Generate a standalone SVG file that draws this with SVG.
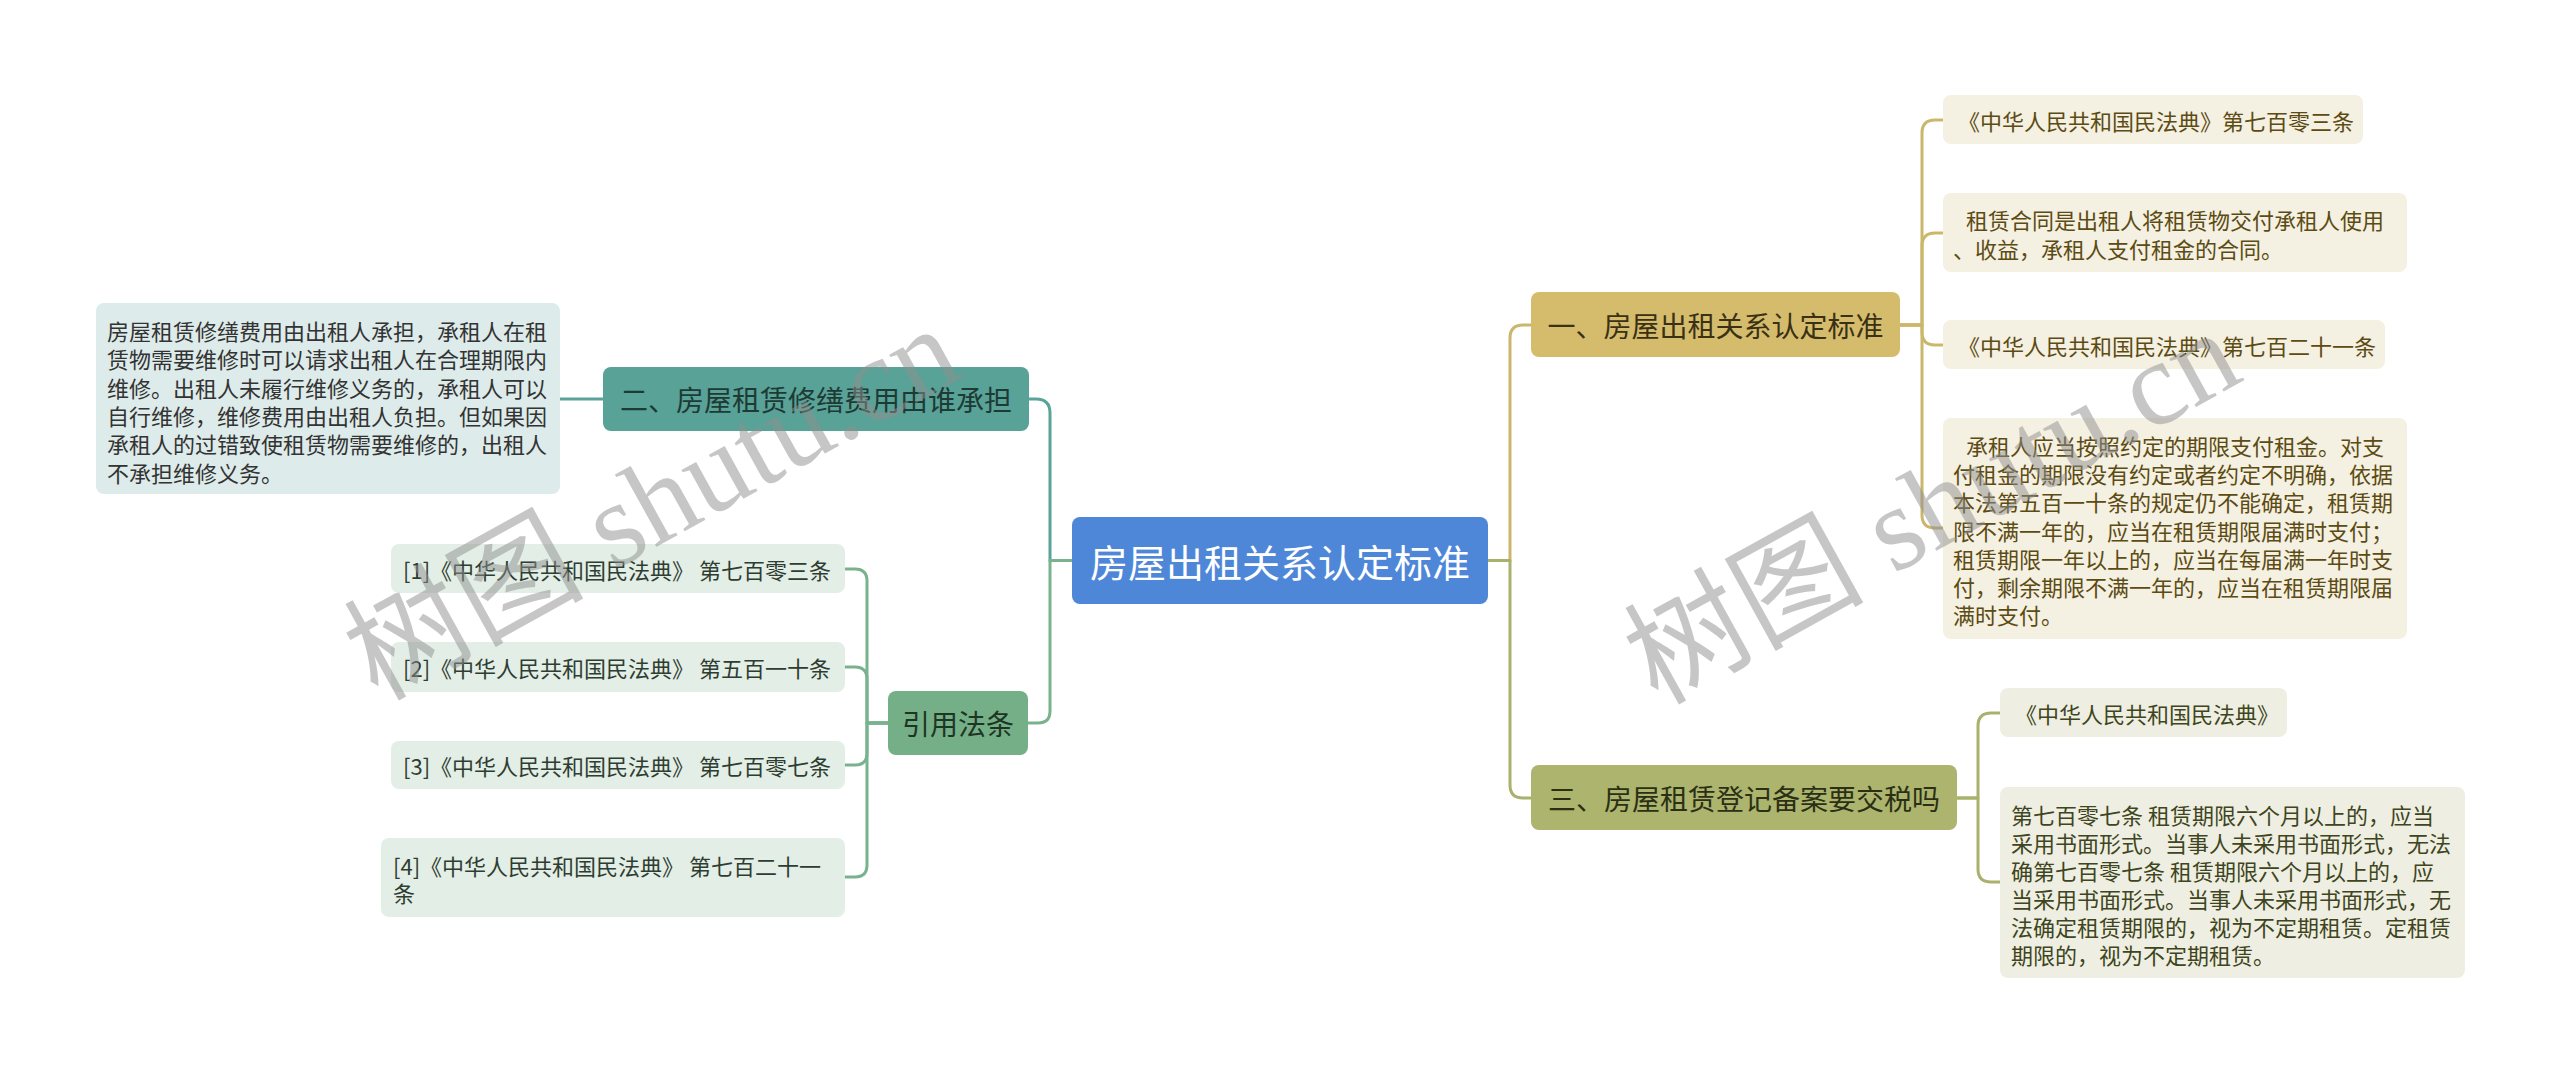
<svg xmlns="http://www.w3.org/2000/svg" width="2560" height="1074" viewBox="0 0 2560 1074">
<style>
text { font-family: "Noto Sans CJK SC", "Noto Sans", sans-serif; dominant-baseline: central; }
.c { fill: none; stroke-width: 3; stroke-linecap: round; stroke-linejoin: round; }
.teal { stroke: #5BA39A; }
.green { stroke: #79B38E; }
.gold { stroke: #CBB76C; }
.olive { stroke: #A9B16C; }
.s22 { font-size: 22px; }
.s28 { font-size: 28px; }
.lb { fill: #DDEBEA; }
.lt { fill: #333333; }
.rf { fill: #E3EEE6; }
.rt { fill: #2E3D31; }
.gf { fill: #F4F0E2; }
.gt { fill: #5C4B12; }
.of { fill: #EEEFE2; }
.ot { fill: #3E4520; }
.wm { font-family: "Liberation Serif", "Noto Sans CJK SC", serif; font-size: 120px; fill: #8f8f8f; opacity: 0.5; text-anchor: middle; }
</style>
<rect width="2560" height="1074" fill="#ffffff"/>

<g id="connectors">
  <path class="c teal" d="M1072,560.5 H1050 V413 Q1050,399 1036,399 H1029"/>
  <path class="c green" d="M1072,560.5 H1050 V711 Q1050,723 1038,723 H1028"/>
  <path class="c teal" d="M603,399 H560"/>
  <path class="c green" d="M888,723 H867 V581 Q867,569 855,569 H845"/>
  <path class="c green" d="M888,723 H867 V679 Q867,667 855,667 H845"/>
  <path class="c green" d="M888,723 H867 V753 Q867,765 855,765 H845"/>
  <path class="c green" d="M888,723 H867 V865 Q867,877 855,877 H845"/>
  <path class="c gold" d="M1488,560.5 H1510 V338 Q1510,325 1523,325 H1531"/>
  <path class="c olive" d="M1488,560.5 H1510 V785 Q1510,798 1523,798 H1531"/>
  <path class="c gold" d="M1900,325 H1922 V133 Q1922,120 1935,120 H1943"/>
  <path class="c gold" d="M1900,325 H1922 V246 Q1922,233 1935,233 H1943"/>
  <path class="c gold" d="M1900,325 H1922 V332 Q1922,345 1935,345 H1943"/>
  <path class="c gold" d="M1900,325 H1922 V515 Q1922,528 1935,528 H1943"/>
  <path class="c olive" d="M1957,798 H1978 V726 Q1978,713 1991,713 H2000"/>
  <path class="c olive" d="M1957,798 H1978 V869 Q1978,882 1991,882 H2000"/>
</g>

<g id="root">
  <rect x="1072" y="517" width="416" height="87" rx="8" fill="#4F87D8"/>
  <text x="1280" y="560.5" font-size="38" fill="#ffffff" text-anchor="middle">房屋出租关系认定标准</text>
</g>

<g id="branch2">
  <rect x="603" y="367" width="426" height="64" rx="8" fill="#59A297"/>
  <text class="s28" x="816" y="399" fill="#1E3A35" text-anchor="middle">二、房屋租赁修缮费用由谁承担</text>
</g>

<g id="branch2-text">
  <rect class="lb" x="96" y="303" width="464" height="191" rx="8"/>
  <text class="s22 lt" x="107" y="330">房屋租赁修缮费用由出租人承担，承租人在租</text>
  <text class="s22 lt" x="107" y="358.3">赁物需要维修时可以请求出租人在合理期限内</text>
  <text class="s22 lt" x="107" y="386.6">维修。出租人未履行维修义务的，承租人可以</text>
  <text class="s22 lt" x="107" y="414.9">自行维修，维修费用由出租人负担。但如果因</text>
  <text class="s22 lt" x="107" y="443.2">承租人的过错致使租赁物需要维修的，出租人</text>
  <text class="s22 lt" x="107" y="471.5">不承担维修义务。</text>
</g>

<g id="refs">
  <rect x="888" y="691" width="140" height="64" rx="8" fill="#74AF87"/>
  <text class="s28" x="958" y="723" fill="#1F3524" text-anchor="middle">引用法条</text>
</g>

<g id="ref1">
  <rect class="rf" x="391" y="544" width="454" height="49" rx="8"/>
  <text class="s22 rt" x="403" y="569">[1]《中华人民共和国民法典》 第七百零三条</text>
</g>
<g id="ref2">
  <rect class="rf" x="391" y="642" width="454" height="50" rx="8"/>
  <text class="s22 rt" x="403" y="667">[2]《中华人民共和国民法典》 第五百一十条</text>
</g>
<g id="ref3">
  <rect class="rf" x="391" y="741" width="454" height="48" rx="8"/>
  <text class="s22 rt" x="403" y="765">[3]《中华人民共和国民法典》 第七百零七条</text>
</g>
<g id="ref4">
  <rect class="rf" x="381" y="838" width="464" height="79" rx="8"/>
  <text class="s22 rt" x="393" y="865">[4]《中华人民共和国民法典》 第七百二十一</text>
  <text class="s22 rt" x="393" y="892">条</text>
</g>

<g id="branch1">
  <rect x="1531" y="292" width="369" height="65" rx="8" fill="#D4BC6C"/>
  <text class="s28" x="1715.5" y="324.5" fill="#3A3014" text-anchor="middle">一、房屋出租关系认定标准</text>
</g>
<g id="b1-a">
  <rect class="gf" x="1943" y="95" width="420" height="49" rx="8"/>
  <text class="s22 gt" x="1958" y="120">《中华人民共和国民法典》第七百零三条</text>
</g>
<g id="b1-b">
  <rect class="gf" x="1943" y="193" width="464" height="79" rx="8"/>
  <text class="s22 gt" x="1966" y="219">租赁合同是出租人将租赁物交付承租人使用</text>
  <text class="s22 gt" x="1953" y="247.5">、收益，承租人支付租金的合同。</text>
</g>
<g id="b1-c">
  <rect class="gf" x="1943" y="320" width="442" height="49" rx="8"/>
  <text class="s22 gt" x="1958" y="345">《中华人民共和国民法典》第七百二十一条</text>
</g>
<g id="b1-d">
  <rect class="gf" x="1943" y="418" width="464" height="221" rx="8"/>
  <text class="s22 gt" x="1966" y="445">承租人应当按照约定的期限支付租金。对支</text>
  <text class="s22 gt" x="1953" y="473.2">付租金的期限没有约定或者约定不明确，依据</text>
  <text class="s22 gt" x="1953" y="501.4">本法第五百一十条的规定仍不能确定，租赁期</text>
  <text class="s22 gt" x="1953" y="529.6">限不满一年的，应当在租赁期限届满时支付；</text>
  <text class="s22 gt" x="1953" y="557.8">租赁期限一年以上的，应当在每届满一年时支</text>
  <text class="s22 gt" x="1953" y="586">付，剩余期限不满一年的，应当在租赁期限届</text>
  <text class="s22 gt" x="1953" y="614.2">满时支付。</text>
</g>

<g id="branch3">
  <rect x="1531" y="765" width="426" height="65" rx="8" fill="#ACB46E"/>
  <text class="s28" x="1744" y="797.5" fill="#2B3015" text-anchor="middle">三、房屋租赁登记备案要交税吗</text>
</g>
<g id="b3-a">
  <rect class="of" x="2000" y="688" width="287" height="49" rx="8"/>
  <text class="s22 ot" x="2015" y="713">《中华人民共和国民法典》</text>
</g>
<g id="b3-b">
  <rect class="of" x="2000" y="787" width="465" height="191" rx="8"/>
  <text class="s22 ot" x="2011" y="813.5">第七百零七条 租赁期限六个月以上的，应当</text>
  <text class="s22 ot" x="2011" y="841.5">采用书面形式。当事人未采用书面形式，无法</text>
  <text class="s22 ot" x="2011" y="869.5">确第七百零七条 租赁期限六个月以上的，应</text>
  <text class="s22 ot" x="2011" y="897.5">当采用书面形式。当事人未采用书面形式，无</text>
  <text class="s22 ot" x="2011" y="925.5">法确定租赁期限的，视为不定期租赁。定租赁</text>
  <text class="s22 ot" x="2011" y="953.5">期限的，视为不定期租赁。</text>
</g>

<g id="watermarks">
  <text class="wm" transform="translate(652,503) rotate(-29)">树图 shutu.cn</text>
  <text class="wm" transform="translate(1932,507) rotate(-29)">树图 shutu.cn</text>
</g>
</svg>
